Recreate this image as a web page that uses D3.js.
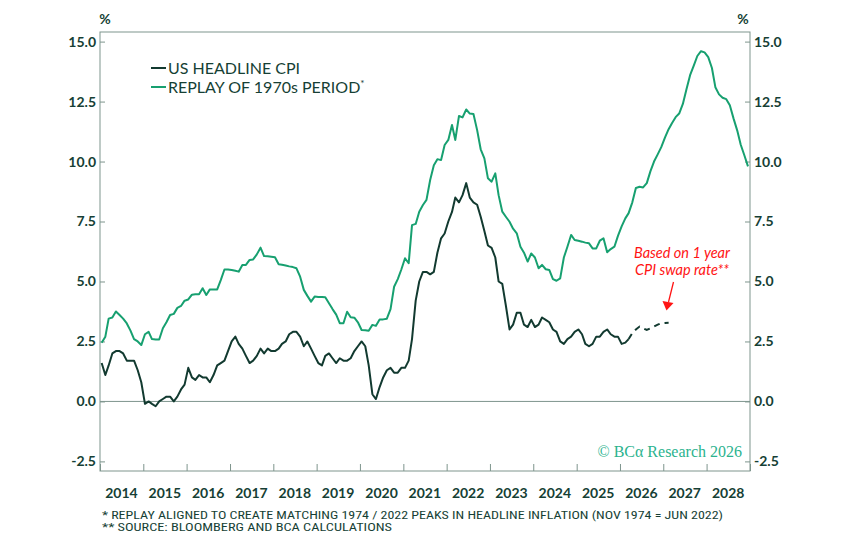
<!DOCTYPE html>
<html>
<head>
<meta charset="utf-8">
<script src="https://cdn.jsdelivr.net/npm/d3@7"></script>
<style>
  body { margin: 0; background: #ffffff; }
  svg { display: block; }
</style>
</head>
<body>
<div id="chart"></div>
<script>
/* US headline CPI y/y, monthly from Jan 2014 to Mar 2026 */
const cpiHeadline = [
  1.6, 1.1, 1.5, 2.0, 2.1, 2.1, 2.0, 1.7, 1.7, 1.7, 1.3, 0.8,        // 2014
  -0.1, 0.0, -0.1, -0.2, 0.0, 0.1, 0.2, 0.2, 0.0, 0.2, 0.5, 0.7,     // 2015
  1.4, 1.0, 0.9, 1.1, 1.0, 1.0, 0.8, 1.1, 1.5, 1.6, 1.7, 2.1,        // 2016
  2.5, 2.7, 2.4, 2.2, 1.9, 1.6, 1.7, 1.9, 2.2, 2.0, 2.2, 2.1,        // 2017
  2.1, 2.2, 2.4, 2.5, 2.8, 2.9, 2.9, 2.7, 2.3, 2.5, 2.2, 1.9,        // 2018
  1.6, 1.5, 1.9, 2.0, 1.8, 1.6, 1.8, 1.7, 1.7, 1.8, 2.1, 2.3,        // 2019
  2.5, 2.3, 1.5, 0.3, 0.1, 0.6, 1.0, 1.3, 1.4, 1.2, 1.2, 1.4,        // 2020
  1.4, 1.7, 2.6, 4.2, 5.0, 5.4, 5.4, 5.3, 5.4, 6.2, 6.8, 7.0,        // 2021
  7.5, 7.9, 8.5, 8.3, 8.6, 9.1, 8.5, 8.3, 8.2, 7.7, 7.1, 6.5,        // 2022
  6.4, 6.0, 5.0, 4.9, 4.0, 3.0, 3.2, 3.7, 3.7, 3.2, 3.1, 3.4,        // 2023
  3.1, 3.2, 3.5, 3.4, 3.3, 3.0, 2.9, 2.5, 2.4, 2.6, 2.7, 2.9,        // 2024
  3.0, 2.8, 2.4, 2.3, 2.4, 2.7, 2.7, 2.9, 3.0, 2.8, 2.7, 2.7,        // 2025
  2.4, 2.45, 2.6                                                      // 2026
];

/* path implied by 1 year CPI swap, Mar 2026 to Feb 2027 */
const cpiSwapPath = [2.6, 2.85, 3.0, 3.12, 3.05, 2.98, 3.05, 3.12, 3.2, 3.26, 3.27, 3.28];
const swapStartMonth = cpiHeadline.length - 1;

/* 1970s CPI replayed (Nov 1974 = Jun 2022), monthly from Jan 2014 to Dec 2028 */
const replay1970s = [
  2.45, 2.7, 3.45, 3.5, 3.75, 3.6, 3.45, 3.25, 2.95, 2.6, 2.5, 2.35,      // 2014
  2.8, 2.9, 2.6, 2.58, 2.58, 3.05, 3.3, 3.6, 3.65, 3.9, 3.98, 4.2,        // 2015
  4.25, 4.45, 4.47, 4.47, 4.72, 4.44, 4.67, 4.67, 4.67, 5.06, 5.5, 5.5,   // 2016
  5.48, 5.45, 5.41, 5.69, 5.69, 5.9, 5.92, 6.13, 6.41, 6.06, 6.05, 6.03,  // 2017
  6.01, 5.72, 5.7, 5.67, 5.63, 5.6, 5.55, 5.2, 4.65, 4.4, 4.16, 4.37,     // 2018
  4.35, 4.35, 4.34, 4.09, 3.85, 3.62, 3.26, 3.26, 3.74, 3.51, 3.49, 3.3,  // 2019
  2.98, 2.97, 2.95, 3.19, 3.15, 3.42, 3.42, 3.45, 3.85, 4.78, 5.1, 5.5,   // 2020
  5.97, 5.76, 7.35, 7.4, 7.91, 8.19, 8.4, 9.23, 9.85, 10.1, 10.06, 10.69, // 2021
  10.9, 11.52, 10.9, 11.9, 11.84, 12.17, 12.0, 11.98, 11.31, 10.51, 10.13, 9.3, // 2022
  9.16, 9.51, 8.6, 7.91, 7.7, 7.49, 7.2, 7.01, 6.45, 6.2, 5.83, 6.17,     // 2023
  6.0, 5.55, 5.69, 5.51, 5.48, 5.1, 5.03, 5.13, 6.0, 6.45, 6.94, 6.73,    // 2024
  6.7, 6.66, 6.62, 6.59, 6.38, 6.38, 6.7, 6.8, 6.22, 6.35, 6.45, 6.9,     // 2025
  7.3, 7.63, 7.85, 8.3, 8.9, 8.95, 8.92, 9.1, 9.6, 10.0, 10.3, 10.6,      // 2026
  11.0, 11.35, 11.6, 11.85, 12.0, 12.4, 13.0, 13.6, 14.0, 14.4, 14.6, 14.55, // 2027
  14.35, 13.9, 13.1, 12.8, 12.66, 12.6, 12.35, 11.8, 11.3, 10.7, 10.25, 9.8 // 2028
];

const yTicks = [-2.5, 0, 2.5, 5, 7.5, 10, 12.5, 15];
const yearLabels = d3.range(2014, 2029);
const yearBounds = d3.range(2014, 2030);

const legendItems = [
  { label: "US HEADLINE CPI", color: "#123a30" },
  { label: "REPLAY OF 1970s PERIOD", color: "#17a070", star: true }
];

const noteLines = ["Based on 1 year", "CPI swap rate**"];

const footnotes = [
  "* REPLAY ALIGNED TO CREATE MATCHING 1974 / 2022 PEAKS IN HEADLINE INFLATION (NOV 1974 = JUN 2022)",
  "** SOURCE: BLOOMBERG AND BCA CALCULATIONS"
];

/* svg setup */
const width = 850, height = 550;
const margin = { top: 32, right: 100, bottom: 79, left: 100 };
const textColor = "#163f35";
const axisColor = "#7e958d";
const sans = "Lato, 'Open Sans', sans-serif";

const svg = d3.select("#chart").append("svg")
  .attr("width", width)
  .attr("height", height);

const monthDate = (i) => new Date(Date.UTC(2014, i, 15));
const fmt = (d) => d.toFixed(1); // plain hyphen for negatives, like the original

const x = d3.scaleUtc()
  .domain([new Date(Date.UTC(2014, 0, 1)), new Date(Date.UTC(2029, 0, 1))])
  .range([margin.left, width - margin.right]);

const y = d3.scaleLinear()
  .domain([-2.9, 15.4])
  .range([height - margin.bottom, margin.top]);

const x0 = x.range()[0], x1 = x.range()[1];
const yTop = y.range()[1], yBot = y.range()[0];

/* zero line */
svg.append("line")
  .attr("x1", x0).attr("x2", x1)
  .attr("y1", y(0)).attr("y2", y(0))
  .attr("stroke", axisColor).attr("stroke-width", 1);

/* frame */
svg.append("rect")
  .attr("x", x0).attr("y", yTop)
  .attr("width", x1 - x0).attr("height", yBot - yTop)
  .attr("fill", "none")
  .attr("stroke", axisColor).attr("stroke-width", 1);

/* y axes, ticks pointing inwards */
const styleAxis = (g) => {
  g.select(".domain").remove();
  g.selectAll("line").attr("stroke", axisColor);
  g.selectAll("text")
    .attr("fill", textColor)
    .style("font-family", sans)
    .style("font-size", "14px")
    .style("font-weight", "700");
};

svg.append("g")
  .attr("transform", `translate(${x0},0)`)
  .call(d3.axisLeft(y).tickValues(yTicks).tickFormat(fmt).tickSize(-5).tickPadding(4))
  .call(styleAxis);

svg.append("g")
  .attr("transform", `translate(${x1},0)`)
  .call(d3.axisRight(y).tickValues(yTicks).tickFormat(fmt).tickSize(-5).tickPadding(4))
  .call(styleAxis);

/* x axis: ticks on year boundaries, labels mid-year */
svg.append("g")
  .attr("transform", `translate(0,${yBot})`)
  .call(d3.axisBottom(x)
    .tickValues(yearBounds.map((yr) => new Date(Date.UTC(yr, 0, 1))))
    .tickFormat("")
    .tickSize(-7))
  .call(styleAxis);

svg.append("g")
  .selectAll("text")
  .data(yearLabels)
  .join("text")
  .attr("x", (yr) => x(new Date(Date.UTC(yr, 6, 1))))
  .attr("y", yBot + 27)
  .attr("text-anchor", "middle")
  .attr("fill", textColor)
  .style("font-family", sans)
  .style("font-size", "14px")
  .style("font-weight", "700")
  .text((yr) => yr);

/* % units */
[x0 + 5, x1 - 7].forEach((px) => {
  svg.append("text")
    .attr("x", px).attr("y", 24)
    .attr("text-anchor", "middle")
    .attr("fill", textColor)
    .style("font-family", sans)
    .style("font-size", "14px")
    .style("font-weight", "700")
    .text("%");
});

/* lines */
const line = d3.line()
  .x((d) => x(monthDate(d.i)))
  .y((d) => y(d.v));

svg.append("path")
  .datum(replay1970s.map((v, i) => ({ i, v })))
  .attr("d", line)
  .attr("fill", "none")
  .attr("stroke", legendItems[1].color)
  .attr("stroke-width", 2)
  .attr("stroke-linejoin", "round");

svg.append("path")
  .datum(cpiHeadline.map((v, i) => ({ i, v })))
  .attr("d", line)
  .attr("fill", "none")
  .attr("stroke", legendItems[0].color)
  .attr("stroke-width", 2)
  .attr("stroke-linejoin", "round");

svg.append("path")
  .datum(cpiSwapPath.map((v, k) => ({ i: swapStartMonth + k, v })))
  .attr("d", line)
  .attr("fill", "none")
  .attr("stroke", legendItems[0].color)
  .attr("stroke-width", 2)
  .attr("stroke-dasharray", "6,5");

/* legend */
const legend = svg.append("g").attr("transform", "translate(151,0)");
legendItems.forEach((item, i) => {
  const cy = 68 + i * 19;
  legend.append("line")
    .attr("x1", 0).attr("x2", 15)
    .attr("y1", cy).attr("y2", cy)
    .attr("stroke", item.color).attr("stroke-width", 2);
  const t = legend.append("text")
    .attr("x", 17).attr("y", cy + 6)
    .attr("fill", textColor)
    .style("font-family", sans)
    .style("font-size", "16px")
    .style("font-weight", "400")
    .text(item.label);
  if (item.star) {
    t.append("tspan")
      .attr("dy", -6)
      .style("font-size", "10px")
      .text("*");
  }
});

/* annotation */
const red = "#ff1414";
const note = svg.append("g");
noteLines.forEach((s, i) => {
  note.append("text")
    .attr("x", 682).attr("y", 257.5 + i * 17)
    .attr("text-anchor", "middle")
    .attr("fill", red)
    .style("font-family", sans)
    .style("font-size", "14.5px")
    .style("font-style", "italic")
    .text(s);
});
note.append("line")
  .attr("x1", 673.5).attr("y1", 282)
  .attr("x2", 668.5).attr("y2", 302)
  .attr("stroke", red).attr("stroke-width", 1.3);
note.append("path")
  .attr("d", "M662.5,301 L673.5,303 L666.5,310.5 Z")
  .attr("fill", red);

/* logo */
svg.append("text")
  .attr("x", 742).attr("y", 457)
  .attr("text-anchor", "end")
  .attr("fill", "#2bb38e")
  .style("font-family", "'Liberation Serif', 'DejaVu Serif', serif")
  .style("font-size", "16px")
  .text("© BCα Research 2026");

/* footnotes */
footnotes.forEach((s, i) => {
  svg.append("text")
    .attr("x", 102).attr("y", 518.5 + i * 12)
    .attr("fill", textColor)
    .attr("textLength", i === 0 ? 621 : 290)
    .attr("lengthAdjust", "spacingAndGlyphs")
    .style("font-family", "'Liberation Sans Narrow', 'Roboto Condensed', Roboto, sans-serif")
    .style("font-size", "11px")
    .text(s);
});
</script>
</body>
</html>
